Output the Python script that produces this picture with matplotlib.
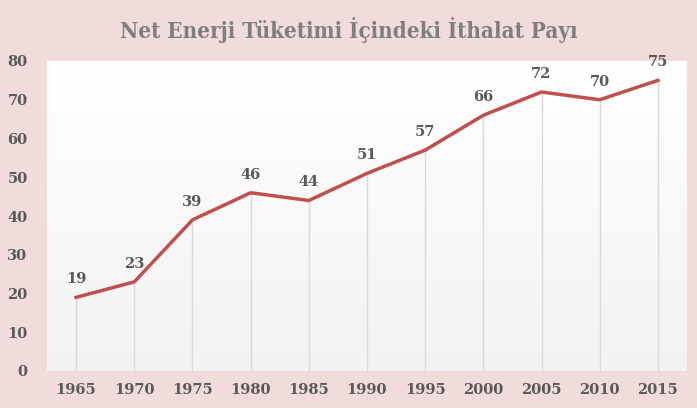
import numpy as np
import matplotlib
matplotlib.use("Agg")
import matplotlib.pyplot as plt

# ── Data ─────────────────────────────────────────────────────────────────────
years = ["1965", "1970", "1975", "1980", "1985", "1990",
         "1995", "2000", "2005", "2010", "2015"]
share = [19, 23, 39, 46, 44, 51, 57, 66, 72, 70, 75]
y_ticks = [0, 10, 20, 30, 40, 50, 60, 70, 80]

TITLE = "Net Enerji Tüketimi İçindeki İthalat Payı"
BG = "#F2DCDB"
LINE = "#C0504D"
TXT = "#595959"

fig = plt.figure(figsize=(6.97, 4.08), dpi=100, facecolor=BG)
ax = fig.add_axes([47 / 697, 1 - 371 / 408, 640 / 697, 310 / 408])
ax.set_facecolor("white")

x = np.arange(len(years))
n = len(years)

# soft grey-at-bottom to white-at-top gradient inside the plot area
grad = np.linspace(0.95, 1.0, 256).reshape(-1, 1)
ax.imshow(np.dstack([grad, grad, grad]), extent=[-0.5, n - 0.5, 0, 80],
          origin="lower", aspect="auto", zorder=0)
ax.set_xlim(-0.5, n - 0.5)
ax.set_ylim(0, 80)

# drop lines
ax.vlines(x, 0, share, color="#D9D9D9", lw=1.0, zorder=1)
ax.plot(x, share, color=LINE, lw=2.5, solid_joinstyle="round", zorder=3)

for xi, v in zip(x, share):
    ax.annotate(str(v), (xi, v), xytext=(0, 8), textcoords="offset points",
                ha="center", va="bottom", fontsize=10.5, fontweight="bold",
                color=TXT, family="DejaVu Serif")

ax.set_xticks(x)
ax.set_xticklabels(years)
ax.set_yticks(y_ticks)
for lab in ax.get_xticklabels() + ax.get_yticklabels():
    lab.set_family("DejaVu Serif")
    lab.set_fontweight("bold")
    lab.set_fontsize(10.5)
    lab.set_color(TXT)
ax.tick_params(length=0)
ax.tick_params(axis="x", pad=9)
ax.tick_params(axis="y", pad=14)
for s in ax.spines.values():
    s.set_visible(False)

fig.text(0.5, 1 - 30 / 408, TITLE, ha="center", va="center", fontsize=16,
         fontweight="bold", color="#7F7F7F", family="DejaVu Serif",
         fontstretch="condensed")

fig.savefig("out.png", dpi=100, facecolor=BG)
